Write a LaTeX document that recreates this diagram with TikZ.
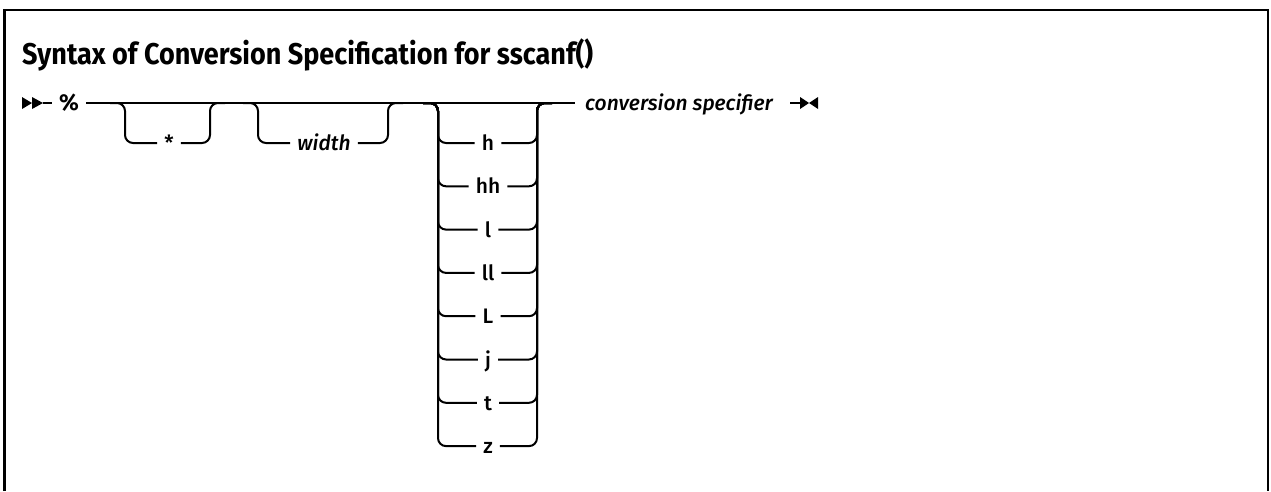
\documentclass[tikz,border=0pt]{standalone}
\usepackage{fontspec}
\setmainfont{Fira Sans}[UprightFont=* Medium, ItalicFont=* Medium Italic, BoldFont=* Bold]
\newlength\headw
\newcommand\headtext{Syntax of Conversion Specification for sscanf()}
\newcommand\headfont{\fontsize{30}{30}\selectfont\bfseries}
\AtBeginDocument{\settowidth\headw{\headfont\headtext}}
\begin{document}
\begin{tikzpicture}[x=1pt, y=-1pt,
  rail/.style={line width=2pt, rounded corners=8pt, line cap=butt},
  lab/.style={font=\fontsize{21}{21}\selectfont, inner xsep=7pt, inner ysep=0pt,
              text height=15pt, text depth=0pt},
  frameline/.style={line width=2.5pt},
  tip/.style={fill=black, draw=none}]
\useasboundingbox (0,0) rectangle (1271,491);

% outer frame (open at the bottom)
\draw[frameline] (4.5,491) -- (4.5,10) -- (1268,10) -- (1268,491);

% heading, stretched to a line length of 571pt
\pgfmathsetmacro\headsx{571/\headw}
\node[anchor=base west, inner sep=0pt] (title)
  at (22,64) {\scalebox{\headsx}[1]{\headfont\headtext}};

% rail coordinates
\def\ry{103}
\coordinate (start) at (43,\ry);
\node[lab, font=\bfseries\fontsize{23}{23}\selectfont] (pct) at (69,\ry) {\%};
\node[lab, anchor=west, inner xsep=0pt, font=\itshape\fontsize{21}{21}\selectfont] (conv) at (585,\ry) {conversion specifier};
\coordinate (convin) at (575,\ry);
\coordinate (stop) at (790,\ry);
\coordinate (stopx) at (800,\ry);

% start marker
\fill[tip] (22,97) -- (32,103) -- (22,109) -- cycle;
\fill[tip] (32,97) -- (43,103) -- (32,109) -- cycle;
\draw[rail] (start) -- (pct.west);

% main line
\draw[rail] (pct.east) -- (convin);

% end marker
\draw[rail] (stop) -- (stopx);
\fill[tip] (800,97) -- (809,103) -- (800,109) -- cycle;
\fill[tip] (818,97) -- (809,103) -- (818,109) -- cycle;

% optional '*'
\node[lab] (star) at (169,143) {*};
\draw[rail] (110,\ry) -- (125,\ry) -- (125,143) -- (star.west);
\draw[rail] (star.east) -- (210,143) -- (210,\ry) -- (225,\ry);

% optional width
\node[lab, font=\itshape\fontsize{21}{21}\selectfont] (width) at (324,143) {width};
\draw[rail] (243,\ry) -- (258,\ry) -- (258,143) -- (width.west);
\draw[rail] (width.east) -- (388,143) -- (388,\ry) -- (403,\ry);

% length modifiers
\foreach \t [count=\i from 0] in {h,hh,l,ll,L,j,t,z}{
  \pgfmathsetmacro{\yy}{143+43.3*\i}
  \node[lab] (m\i) at (488,\yy) {\t};
  \draw[rail] (423,\ry) -- (438,\ry) -- (438,\yy) -- (m\i.west);
  \draw[rail] (m\i.east) -- (537,\yy) -- (537,\ry) -- (552,\ry);
}
\end{tikzpicture}
\end{document}
